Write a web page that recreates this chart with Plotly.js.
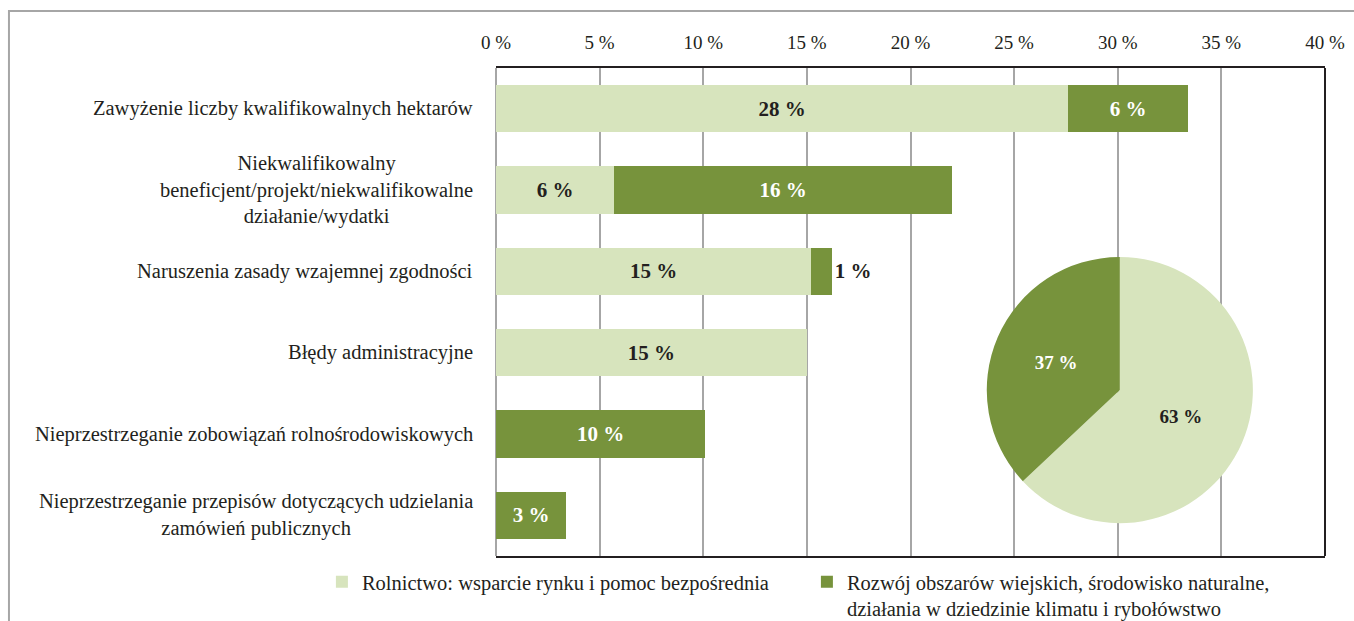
<!DOCTYPE html>
<html>
<head>
<meta charset="utf-8">
<script src="https://cdn.plot.ly/plotly-3.0.1.min.js"></script>
<style>html,body{margin:0;padding:0;background:#fff;}#chart{width:1354px;height:621px;}</style>
</head>
<body>
<div id="chart"></div>
<script>
const categories = [
  "Zawyżenie liczby kwalifikowalnych hektarów",
  "Niekwalifikowalny<br>beneficjent/projekt/niekwalifikowalne<br>działanie/wydatki",
  "Naruszenia zasady wzajemnej zgodności",
  "Błędy administracyjne",
  "Nieprzestrzeganie zobowiązań rolnośrodowiskowych",
  "Nieprzestrzeganie przepisów dotyczących udzielania<br>zamówień publicznych"
];
const seriesNames = [
  "Rolnictwo: wsparcie rynku i pomoc bezpośrednia",
  "Rozwój obszarów wiejskich, środowisko naturalne,<br>działania w dziedzinie klimatu i rybołówstwo"
];
const agriculture = [27.6, 5.7, 15.2, 15.0, null, null];
const ruralDev = [5.8, 16.3, 1.0, null, 10.1, 3.4];
const pieLabels = ["Rolnictwo", "Rozwój obszarów wiejskich"];
const pieValues = [63, 37];
const xTicks = [0, 5, 10, 15, 20, 25, 30, 35, 40];
const xTickLabels = ["0 %", "5 %", "10 %", "15 %", "20 %", "25 %", "30 %", "35 %", "40 %"];

const LIGHT = "#d7e4bd", DARK = "#77933c", INK = "#231f20", GRID = "#a6a6a6";
const FONT = "'Liberation Serif', 'DejaVu Serif', serif";

const traces = [
  {
    type: "bar", orientation: "h", name: seriesNames[0],
    y: categories, x: agriculture,
    marker: {color: LIGHT},
    texttemplate: "<b>%{x:.0f} %</b>", textposition: "inside", insidetextanchor: "middle",
    textfont: {family: FONT, size: 21, color: INK}, constraintext: "none",
    hoverinfo: "x+y"
  },
  {
    type: "bar", orientation: "h", name: seriesNames[1],
    y: categories, x: ruralDev,
    marker: {color: DARK},
    texttemplate: "<b>%{x:.0f} %</b>",
    textposition: ["inside", "inside", "outside", "inside", "inside", "inside"],
    insidetextanchor: "middle",
    insidetextfont: {family: FONT, size: 21, color: "#ffffff"},
    outsidetextfont: {family: FONT, size: 21, color: INK},
    constraintext: "none", cliponaxis: false,
    hoverinfo: "x+y"
  },
  {
    type: "pie", labels: pieLabels, values: pieValues, sort: false,
    direction: "clockwise", rotation: 0, showlegend: false,
    marker: {colors: [LIGHT, DARK]},
    texttemplate: "<b>%{value} %</b>", textposition: "inside",
    insidetextorientation: "horizontal",
    textfont: {family: FONT, size: 19, color: [INK, "#ffffff"]},
    domain: {x: [0.592, 0.913], y: [0.067, 0.613]}
  }
];

const annotations = categories.map(c => ({
  xref: "paper", yref: "y", x: -0.025, y: c, xanchor: "right", yanchor: "middle",
  text: c, align: "center", showarrow: false,
  font: {family: FONT, size: 20.5, color: INK}
}));

const layout = {
  width: 1354, height: 621,
  margin: {l: 496, r: 29, t: 68, b: 65, autoexpand: false},
  paper_bgcolor: "#fff", plot_bgcolor: "#fff",
  font: {family: FONT, color: INK, size: 19},
  barmode: "stack", bargap: 0.42,
  showlegend: true,
  xaxis: {
    side: "top", range: [0, 40], tickmode: "array", tickvals: xTicks, ticktext: xTickLabels,
    showgrid: true, gridcolor: GRID, gridwidth: 2,
    zeroline: true, zerolinecolor: GRID, zerolinewidth: 2,
    showline: true, linecolor: INK, linewidth: 2, mirror: true,
    ticks: "outside", ticklen: 9, tickcolor: "rgba(0,0,0,0)", automargin: false,
    tickfont: {family: FONT, size: 19, color: INK}, fixedrange: true
  },
  yaxis: {
    autorange: "reversed", showticklabels: false, showline: false,
    showgrid: false, zeroline: false, ticks: "", fixedrange: true, automargin: false
  },
  legend: {
    orientation: "h", x: -0.21, xanchor: "left", y: -0.012, yanchor: "top",
    valign: "top", font: {family: FONT, size: 20.5, color: INK},
    bgcolor: "rgba(0,0,0,0)", traceorder: "normal", entrywidth: 440
  },
  annotations: annotations,
  shapes: [
    {type: "line", xref: "paper", yref: "paper", x0: 1, x1: 1, y0: 0, y1: 1,
     line: {color: INK, width: 2}},
    {type: "rect", xref: "paper", yref: "paper", x0: -0.5875, x1: 1.05, y0: -0.2, y1: 1.1168,
     line: {color: GRID, width: 2}, fillcolor: "rgba(0,0,0,0)", layer: "below"}
  ]
};

Plotly.newPlot("chart", traces, layout, {displayModeBar: false, staticPlot: true});
</script>
</body>
</html>
